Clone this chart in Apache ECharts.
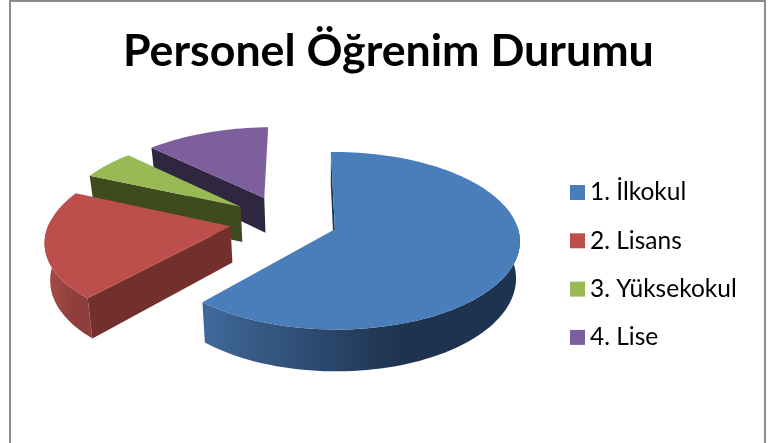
<!DOCTYPE html>
<html>
<head>
<meta charset="utf-8">
<style>html,body{margin:0;padding:0;background:#fff}#chart{width:768px;height:443px}</style>
<script src="https://cdn.jsdelivr.net/npm/echarts@6/dist/echarts.min.js"></script>
</head>
<body>
<div id="chart"></div>
<script>
const titleText = 'Personel Öğrenim Durumu'
const categories = ['1. İlkokul', '2. Lisans', '3. Yüksekokul', '4. Lise']
const values = [61.7, 20.1, 5.5, 12.7]
const topColors = ['#4a7ebb', '#bc4f4c', '#98b954', '#7e5f9e']
const edgeColors = ['#1f3552', '#722f2c', '#3f4a1f', '#2f2640']
const wallLeftColors = ['#40699a', '#a94c48', '#3f4a1f', '#2f2640']
const wallRightColors = ['#1e3350', '#8f3f3b', '#3f4a1f', '#2f2640']

// 3D look: ECharts has no tilted pie, so slices are projected by hand
const cx = 284, cy = 220.5, vanishX = 325, radius = 181, explode = 54, depth = 36
const tilt = 0.47, persp = 0.0007, shrink = 0.02, firstAngle = -1

const total = values.reduce((a, b) => a + b, 0)
const rad = d => d * Math.PI / 180

function project(X, Z, H) {
    const s = 1 / (1 + persp * Z)
    const m = 1 - shrink * H / depth
    return [vanishX + (cx - vanishX + X) * s * m, cy - Z * tilt * s + H * s]
}

function sliceAngles(index) {
    let a = firstAngle
    for (let i = 0; i < index; i++) a += values[i] / total * 360
    return [a, a + values[index] / total * 360]
}

function renderSlice(index) {
    const [a0, a1] = sliceAngles(index)
    const mid = rad((a0 + a1) / 2)
    const ox = explode * Math.sin(mid), oz = explode * Math.cos(mid)
    const rim = (deg, h) => project(ox + radius * Math.sin(rad(deg)), oz + radius * Math.cos(rad(deg)), h)
    const apex = h => project(ox, oz, h)
    const arc = (from, to, h) => {
        const pts = []
        const n = Math.max(2, Math.ceil(Math.abs(to - from) / 2))
        for (let i = 0; i <= n; i++) pts.push(rim(from + (to - from) * i / n, h))
        return pts
    }
    const children = []
    const poly = (points, fill) => children.push({
        type: 'polygon',
        shape: {points: points},
        style: {fill: fill, stroke: null}
    })
    // cut face
    poly([apex(0), rim(a0, 0), rim(a0, depth), apex(depth)], edgeColors[index])
    // outer wall, only the part that faces the viewer
    const wa = Math.max(a0, 88), wb = Math.min(a1, 272)
    if (wb > wa) {
        poly(arc(wa, wb, 0).concat(arc(wb, wa, depth)), {
            type: 'linear', x: 0, y: 0, x2: 1, y2: 0,
            colorStops: [
                {offset: 0, color: wallLeftColors[index]},
                {offset: 0.62, color: wallRightColors[index]},
                {offset: 1, color: wallRightColors[index]}
            ]
        })
    }
    poly([apex(0)].concat(arc(a0, a1, 0)), topColors[index])
    return {type: 'group', children: children}
}

const chart = echarts.init(document.getElementById('chart'))
chart.setOption({
    animation: false,
    color: topColors,
    title: {
        text: titleText,
        left: 118,
        top: 24,
        textStyle: {fontFamily: 'Lato', fontWeight: 'bold', fontSize: 44.7, color: '#000'}
    },
    legend: {
        data: categories,
        orient: 'vertical',
        left: 565,
        top: 175,
        icon: 'rect',
        itemWidth: 15,
        itemHeight: 15,
        itemGap: 23.3,
        selectedMode: false,
        textStyle: {fontFamily: 'Lato', fontSize: 24.5, color: '#000'}
    },
    graphic: [{
        type: 'rect',
        shape: {x: 10, y: 1, width: 755, height: 470},
        style: {fill: 'none', stroke: '#8c8c8c', lineWidth: 2},
        silent: true
    }],
    series: categories.map((name, i) => ({
        name: name,
        type: 'custom',
        coordinateSystem: 'none',
        silent: true,
        z: 10 - i,
        itemStyle: {color: topColors[i]},
        data: [values[i]],
        renderItem: () => renderSlice(i)
    }))
})
</script>
</body>
</html>
